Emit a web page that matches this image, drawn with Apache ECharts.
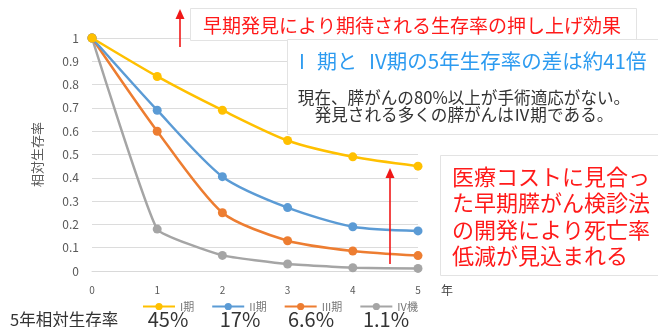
<!DOCTYPE html>
<html>
<head>
<meta charset="utf-8">
<script src="https://cdn.jsdelivr.net/npm/echarts@6/dist/echarts.min.js"></script>
<style>
html,body{margin:0;padding:0;background:#fff;}
#c{width:658px;height:327px;}
</style>
</head>
<body>
<div id="c"></div>
<script>
var years = [0, 1, 2, 3, 4, 5];
var seriesNames = ['I期', 'II期', 'III期', 'IV機'];
var stage1 = [1, 0.835, 0.69, 0.56, 0.49, 0.45];
var stage2 = [1, 0.69, 0.405, 0.272, 0.19, 0.172];
var stage3 = [1, 0.60, 0.25, 0.13, 0.086, 0.066];
var stage4 = [1, 0.18, 0.067, 0.03, 0.014, 0.011];
var fiveYearRates = ['45%', '17%', '6.6%', '1.1%'];
var colors = ['#FFC000', '#5B9BD5', '#ED7D31', '#A5A5A5'];
var smoothness = [0.25, 0.25, 0.25, 0.12];

var FONT = '"Noto Sans CJK JP", "Noto Sans", sans-serif';
var chart = echarts.init(document.getElementById('c'));

function pairs(vals) { return years.map(function (x, i) { return [x, vals[i]]; }); }
var allData = [stage1, stage2, stage3, stage4];

var series = allData.map(function (d, i) {
  return {
    name: seriesNames[i], type: 'line', data: pairs(d), smooth: smoothness[i],
    symbol: 'circle', symbolSize: 9,
    lineStyle: { width: 2.5, color: colors[i] },
    itemStyle: { color: colors[i] },
    z: 10 - i
  };
});

var rateX = [168, 240, 311, 386];
var graphics = [];
function box(x, y, w, h) {
  return { type: 'rect', z: 100, shape: { x: x, y: y, width: w, height: h },
    style: { fill: '#fff', stroke: '#e3e3e3', lineWidth: 1 } };
}
graphics.push(box(190.5, 8.5, 446, 32));
graphics.push(box(287.5, 39.5, 380, 95));
graphics.push(box(440.5, 155.5, 230, 120));
function txt(x, y, s, size, color, align, lh) {
  return { type: 'text', z: 110, x: x, y: y,
    style: { text: s, font: size + 'px ' + FONT, fill: color, textAlign: align || 'left',
      textVerticalAlign: 'middle', lineHeight: lh || size } };
}
graphics.push(txt(412, 26, '早期発見により期待される生存率の押し上げ効果', 19, '#FF1A1A', 'center'));
var BLUE = '#2D9BF0';
graphics.push(txt(299, 61, 'I', 20, BLUE, 'left'));
graphics.push(txt(317, 61, '期と', 20, BLUE, 'left'));
graphics.push(txt(369, 61, 'IV期の5年生存率の差は約41倍', 20.5, BLUE, 'left'));
graphics.push(txt(464, 106, '現在、膵がんの80%以上が手術適応がない。\n発見される多くの膵がんはⅣ期である。', 16.6, '#333333', 'center', 17));
graphics.push(txt(452, 216, '医療コストに見合っ\nた早期膵がん検診法\nの開発により死亡率\n低減が見込まれる', 22, '#FF1A1A', 'left', 26.5));
function arrow(x, y1, y2) {
  return [
    { type: 'line', z: 105, shape: { x1: x, y1: y1, x2: x, y2: y2 + 8 },
      style: { stroke: '#F01818', lineWidth: 1.6 } },
    { type: 'polygon', z: 105, shape: { points: [[x, y2], [x - 4.5, y2 + 10], [x + 4.5, y2 + 10]] },
      style: { fill: '#F01818' } }
  ];
}
graphics = graphics.concat(arrow(180, 47, 9));
graphics = graphics.concat(arrow(390, 264, 168));
graphics.push(txt(447, 290, '年', 12, '#444', 'center'));
graphics.push(txt(10, 319.5, '5年相対生存率', 16.5, '#333', 'left'));
fiveYearRates.forEach(function (r, i) {
  graphics.push(txt(rateX[i], 319.5, r, 20, '#333', 'center'));
});

chart.setOption({
  animation: false,
  color: colors,
  textStyle: { fontFamily: FONT },
  grid: { left: 92, right: 240, top: 38, bottom: 56 },
  legend: {
    data: seriesNames, left: 137, top: 296, itemWidth: 32, itemHeight: 9, itemGap: 17,
    textStyle: { fontSize: 11, color: '#777', fontFamily: FONT }
  },
  xAxis: {
    type: 'value', min: 0, max: 5, interval: 1,
    axisLine: { show: true, lineStyle: { color: '#d9d9d9' } },
    axisTick: { show: false },
    splitLine: { show: false },
    axisLabel: { color: '#595959', fontSize: 10, margin: 14 }
  },
  yAxis: {
    type: 'value', min: 0, max: 1, interval: 0.1,
    name: '相対生存率', nameLocation: 'middle', nameGap: 48, nameRotate: 90,
    nameTextStyle: { fontSize: 13, color: '#595959', fontFamily: FONT },
    axisLine: { show: false }, axisTick: { show: false },
    splitLine: { lineStyle: { color: '#dcdcdc', width: 1 } },
    axisLabel: { color: '#595959', fontSize: 12, margin: 13,
      formatter: function (v) { return String(Math.round(v * 10) / 10); } }
  },
  series: series,
  graphic: graphics
});
</script>
</body>
</html>
